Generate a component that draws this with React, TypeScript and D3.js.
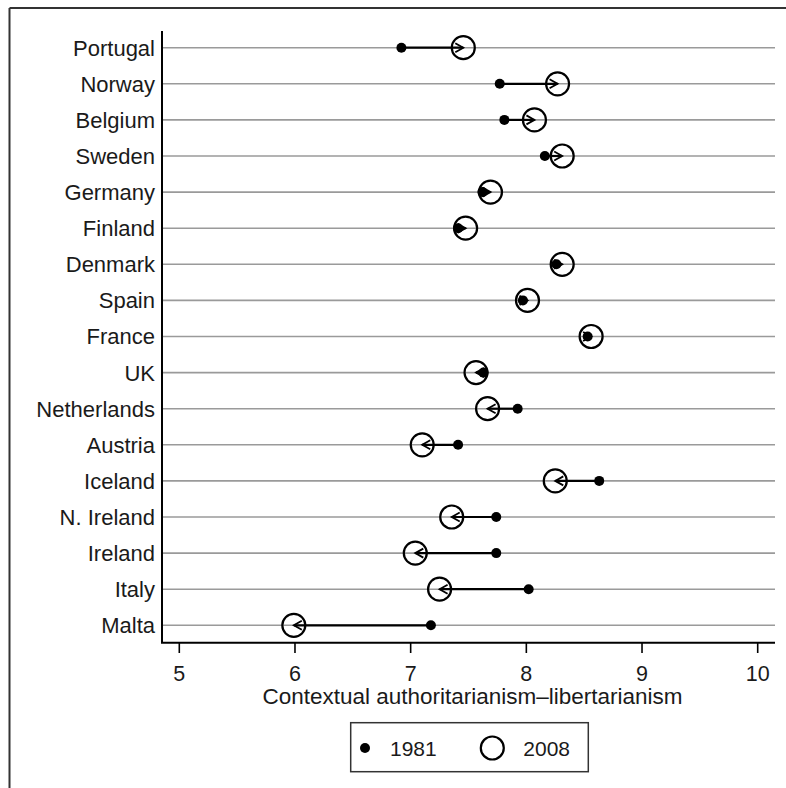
import React from "react";
import * as d3 from "d3";

const countries = ["Portugal","Norway","Belgium","Sweden","Germany","Finland","Denmark","Spain","France","UK","Netherlands","Austria","Iceland","N. Ireland","Ireland","Italy","Malta"];
const values1981 = [6.92,7.77,7.81,8.16,7.62,7.41,8.26,7.97,8.53,7.63,7.925,7.41,8.63,7.74,7.74,8.02,7.175];
const values2008 = [7.455,8.27,8.07,8.31,7.69,7.475,8.31,8.01,8.56,7.565,7.665,7.10,8.25,7.355,7.04,7.25,5.99];
const xTicks = [5,6,7,8,9,10];
const xTitle = "Contextual authoritarianism\u2013libertarianism";
const legendLabels = ["1981","2008"];

const W = 786, H = 788;
const plotLeft = 162, plotRight = 775, plotBottom = 642.7;
const font = "'Liberation Sans', Arial, Helvetica, sans-serif";

export default function App() {
  const x = d3.scaleLinear().domain([5, 10]).range([179.3, 757.7]);
  const y = d3.scalePoint<string>().domain(countries).range([47.7, 625.3]);
  const R = 11.5, r = 5;

  const arrows = countries.map((c, i) => {
    const x1 = x(values1981[i]), x2 = x(values2008[i]), yy = y(c)!;
    const dir = x2 >= x1 ? 1 : -1;
    const ah = 8, aw = 4.5;
    return (
      <g key={c}>
        <line x1={x1} y1={yy} x2={x2} y2={yy} stroke="#000" strokeWidth={2.2} />
        <path d={`M${x2 - dir * ah},${yy - aw} L${x2},${yy} L${x2 - dir * ah},${yy + aw}`} fill="none" stroke="#000" strokeWidth={1.8} />
      </g>
    );
  });

  return (
    <svg width={W} height={H} style={{ position: "absolute", left: 0, top: 0, display: "block", background: "#fff" }}>
      <rect x={0} y={0} width={W} height={H} fill="#fff" />
      <line x1={9.5} y1={8} x2={W} y2={8} stroke="#333" strokeWidth={2} />
      <line x1={9.5} y1={8} x2={9.5} y2={H} stroke="#333" strokeWidth={2} />

      {countries.map((c) => (
        <line key={"g" + c} x1={plotLeft} x2={plotRight} y1={y(c)} y2={y(c)} stroke="#9a9a9a" strokeWidth={1.6} />
      ))}

      {countries.map((c) => (
        <text key={"l" + c} x={155} y={y(c)} dy="0.36em" textAnchor="end" fontFamily={font} fontSize={22} fill="#1a1a1a">{c}</text>
      ))}

      {arrows}

      {countries.map((c, i) => (
        <circle key={"d" + c} cx={x(values1981[i])} cy={y(c)} r={r} fill="#000" />
      ))}
      {countries.map((c, i) => (
        <circle key={"o" + c} cx={x(values2008[i])} cy={y(c)} r={R} fill="none" stroke="#000" strokeWidth={2.2} />
      ))}

      <line x1={plotLeft} x2={plotLeft} y1={31} y2={plotBottom} stroke="#000" strokeWidth={2} />
      <line x1={plotLeft - 1} x2={plotRight} y1={plotBottom} y2={plotBottom} stroke="#000" strokeWidth={2} />
      {xTicks.map((t) => (
        <g key={"t" + t}>
          <line x1={x(t)} x2={x(t)} y1={plotBottom} y2={653} stroke="#000" strokeWidth={1.6} />
          <text x={x(t)} y={673.5} dy="0.36em" textAnchor="middle" fontFamily={font} fontSize={21.5} fill="#1a1a1a">{t}</text>
        </g>
      ))}
      <text x={(plotLeft + plotRight) / 2 + 4} y={704} textAnchor="middle" fontFamily={font} fontSize={22.5} fill="#1a1a1a">{xTitle}</text>

      <rect x={350.7} y={722.7} width={237.6} height={49} fill="#fff" stroke="#333" strokeWidth={1.5} />
      <circle cx={365} cy={748} r={r} fill="#000" />
      <text x={390} y={748} dy="0.36em" fontFamily={font} fontSize={21} fill="#1a1a1a">{legendLabels[0]}</text>
      <circle cx={492.3} cy={748} r={R} fill="none" stroke="#000" strokeWidth={2.2} />
      <text x={523.3} y={748} dy="0.36em" fontFamily={font} fontSize={21} fill="#1a1a1a">{legendLabels[1]}</text>
    </svg>
  );
}
